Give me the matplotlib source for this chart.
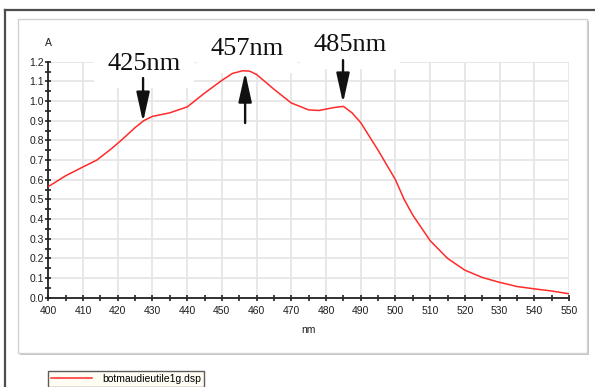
import matplotlib
matplotlib.use("Agg")
import matplotlib.pyplot as plt
from matplotlib.lines import Line2D
from matplotlib.patches import Rectangle
from matplotlib.ticker import MultipleLocator, FormatStrFormatter

plt.rcParams['font.family'] = ['Liberation Sans', 'DejaVu Sans']

# absorbance spectrum (nm, A)
wavelengths = [400, 405, 410, 414, 418, 421, 425, 427.5, 430, 435, 440, 445,
               450, 453, 456, 458, 460, 465, 470, 475, 478, 482, 485, 487.5,
               490, 495, 500, 502.5, 505, 510, 515, 520, 525, 530, 535, 540,
               545, 550]
absorbance = [0.565, 0.62, 0.665, 0.70, 0.755, 0.80, 0.865, 0.90, 0.922, 0.94,
              0.97, 1.04, 1.105, 1.14, 1.154, 1.152, 1.135, 1.06, 0.99, 0.955,
              0.952, 0.966, 0.973, 0.94, 0.89, 0.75, 0.60, 0.50, 0.42, 0.29,
              0.20, 0.14, 0.103, 0.078, 0.057, 0.045, 0.034, 0.02]

# peak markers: arrow position, label, label position, arrow tail/tip (A)
peak_nm = [427.3, 456.7, 484.9]
peak_labels = ['425nm', '457nm', '485nm']
label_x = [427.5, 457.2, 486.9]
label_y = [1.188, 1.267, 1.285]
arrow_tail = [1.117, 0.888, 1.208]
arrow_tip = [0.893, 1.147, 0.99]

legend_name = 'botmaudieutile1g.dsp'

W, H = 595, 387
fig = plt.figure(figsize=(W / 100, H / 100), dpi=100)


def px(x, y):
    return x / W, 1 - y / H


# window frame + panel (behind the axes)
fig.add_artist(Line2D([5 / W, 5 / W], [0, 1 - 10 / H], color='#4d4d4d', lw=1.6))
fig.add_artist(Line2D([5 / W, 1], [1 - 10 / H, 1 - 10 / H], color='#4d4d4d', lw=1.6))
x0, y0 = px(18, 353)
fig.add_artist(Rectangle((x0 + 1.5 / W, y0 - 1.5 / H), 569 / W, 334 / H,
                         transform=fig.transFigure, facecolor='#c4c4c4',
                         edgecolor='none', zorder=-3))
fig.add_artist(Rectangle((x0, y0), 569 / W, 334 / H, transform=fig.transFigure,
                         facecolor='white', edgecolor='#d2d2d2', lw=1.0, zorder=-2))

ax = fig.add_axes([48.3 / W, 89.3 / H, 520.7 / W, 236 / H])
ax.set_facecolor('none')

line, = ax.plot(wavelengths, absorbance, color='#ff2a2a', lw=1.1, zorder=4,
                label=legend_name)

ax.set_xlim(400, 550)
ax.set_ylim(0, 1.2)
ax.xaxis.set_major_locator(MultipleLocator(10))
ax.xaxis.set_minor_locator(MultipleLocator(5))
ax.yaxis.set_major_locator(MultipleLocator(0.1))
ax.yaxis.set_minor_locator(MultipleLocator(0.05))
ax.yaxis.set_major_formatter(FormatStrFormatter('%.1f'))
ax.grid(True, which='major', color='#e6e6e6', lw=1.3, zorder=0)
ax.set_axisbelow(True)

for side in ('top', 'right'):
    ax.spines[side].set_visible(False)
for side in ('left', 'bottom'):
    ax.spines[side].set_linewidth(1.3)
    ax.spines[side].set_color('#222222')

ax.tick_params(which='both', direction='inout', length=5, width=1.2,
               color='#222222', labelsize=7.5, labelcolor='#1e1e1e')
ax.tick_params(axis='y', pad=0.5)
ax.tick_params(axis='x', pad=3.5)

fig.text(48.3 / W, 1 - 43.5 / H, 'A', ha='center', va='center',
         fontsize=7.5, color='#1e1e1e')
fig.text(308.6 / W, 1 - 330 / H, 'nm', ha='center', va='center',
         fontsize=7.5, color='#1e1e1e')

for x, lab, tx, ty, a0, a1 in zip(peak_nm, peak_labels, label_x, label_y,
                                  arrow_tail, arrow_tip):
    ax.text(tx, ty, lab, ha='center', va='center', fontsize=19,
            family='Liberation Serif', color='#111111', zorder=3,
            bbox=dict(boxstyle='square,pad=0.5', facecolor='white',
                      edgecolor='none'))
    ax.annotate('', xy=(x, a1), xytext=(x, a0), zorder=5,
                arrowprops=dict(arrowstyle='-|>,head_length=1.8,head_width=0.4',
                                lw=1.7, color='#111111', mutation_scale=10,
                                shrinkA=0, shrinkB=0))

leg = fig.legend(handles=[line], loc='upper left',
                 bbox_to_anchor=(48.3 / W, 1 - 371 / H), frameon=True,
                 fancybox=False, fontsize=7.5, handlelength=3.9,
                 handletextpad=1.0, borderpad=0.3, borderaxespad=0)
leg.get_frame().set_edgecolor('#333333')
leg.get_frame().set_facecolor('#fffdf0')
leg.get_frame().set_linewidth(1.0)

fig.savefig('out.png', dpi=100)
